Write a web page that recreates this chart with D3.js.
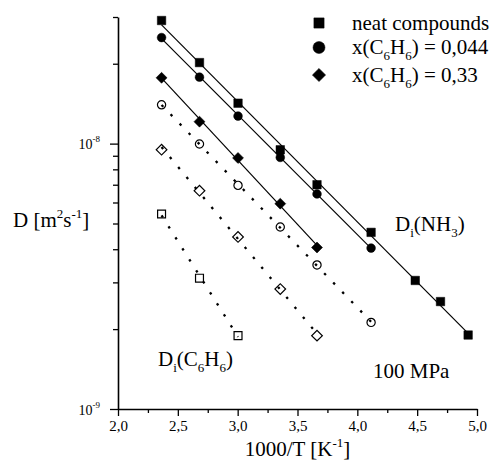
<!DOCTYPE html>
<html>
<head>
<meta charset="utf-8">
<script src="https://cdn.jsdelivr.net/npm/d3@7"></script>
<style>
  body { margin: 0; background: #fff; }
  svg, svg text { font-family: "Liberation Serif", "DejaVu Serif", serif; }
</style>
</head>
<body>
<svg id="chart" width="493" height="462"></svg>
<script>
// 1000/T for the measured temperatures (423, 373, 333, 298, 273, 243, 223, 213, 203 K)
const invT = [2.364, 2.681, 3.003, 3.356, 3.663, 4.115, 4.484, 4.695, 4.926]

// D [m2 s-1]
const neatNH3  = [2.91e-8, 2.02e-8, 1.42e-8, 9.48e-9, 7.0e-9, 4.63e-9, 3.05e-9, 2.54e-9, 1.90e-9]
const x044NH3  = [2.51e-8, 1.78e-8, 1.27e-8, 8.87e-9, 6.46e-9, 4.04e-9]
const x033NH3  = [1.77e-8, 1.21e-8, 8.83e-9, 5.94e-9, 4.06e-9]
const x044C6H6 = [1.40e-8, 9.97e-9, 6.96e-9, 4.85e-9, 3.49e-9, 2.12e-9]
const x033C6H6 = [9.49e-9, 6.65e-9, 4.45e-9, 2.83e-9, 1.89e-9]
const neatC6H6 = [5.43e-9, 3.11e-9, 1.89e-9]

// ticks
const xMajor = [2.0, 2.5, 3.0, 3.5, 4.0, 4.5, 5.0]
const xMinor = [2.25, 2.75, 3.25, 3.75, 4.25, 4.75]
const yMajor = [1e-9, 1e-8]
const yMinor = [2e-9, 3e-9, 4e-9, 5e-9, 6e-9, 7e-9, 8e-9, 9e-9, 2e-8, 3e-8]

const legendLabels = ['neat compounds', '0,044', '0,33']

const FONT = '"Liberation Serif", "DejaVu Serif", serif'
let margin = {top: 17, right: 16, bottom: 53, left: 118}
let W = 493, H = 462
let svg = d3.select('#chart').attr('font-family', FONT)

let x = d3.scaleLinear().domain([2, 5]).range([margin.left, W - margin.right])
let y = d3.scaleLog().domain([1e-9, 3e-8]).range([H - margin.bottom, margin.top])

// ---- axes
function styleAxis(g, w) {
    g.attr('font-family', FONT)
    g.select('.domain').attr('stroke-width', w)
    g.selectAll('.tick line').attr('stroke-width', 1.3)
}
let xb = svg.append('g').attr('transform', `translate(0,${y.range()[0]})`)
    .call(d3.axisBottom(x).tickValues(xMajor).tickSize(7).tickSizeOuter(0).tickPadding(4)
        .tickFormat(d => d.toFixed(1).replace('.', ',')))
styleAxis(xb, 1.6)
xb.selectAll('text').attr('font-size', 15).attr('fill', '#000')
let xm = svg.append('g').attr('transform', `translate(0,${y.range()[0]})`)
    .call(d3.axisBottom(x).tickValues(xMinor).tickSize(4).tickFormat(''))
xm.select('.domain').remove()
xm.selectAll('.tick line').attr('stroke-width', 1.3)

let yl = svg.append('g').attr('transform', `translate(${margin.left},0)`)
    .call(d3.axisLeft(y).tickValues(yMajor).tickSize(8).tickSizeOuter(0).tickFormat(''))
styleAxis(yl, 1.6)
let ym = svg.append('g').attr('transform', `translate(${margin.left},0)`)
    .call(d3.axisLeft(y).tickValues(yMinor).tickSize(5).tickFormat(''))
ym.select('.domain').remove()
ym.selectAll('.tick line').attr('stroke-width', 1.3)

// 10^n labels
yMajor.forEach(v => {
    let t = svg.append('text').attr('x', margin.left - 18).attr('y', y(v) + 5.5)
        .attr('text-anchor', 'end').attr('font-size', 14)
    t.append('tspan').text('10')
    t.append('tspan').attr('dy', -7).attr('font-size', 9).text(Math.round(Math.log10(v)))
})

// text with sub/superscripts: parts = [[str, 'sub'|'sup'|null]]
function rich(x0, y0, size, parts, anchor) {
    let t = svg.append('text').attr('x', x0).attr('y', y0).attr('font-size', size)
        .attr('font-family', FONT)
        .attr('text-anchor', anchor || 'start')
    let cur = 0
    parts.forEach(([s, k]) => {
        let off = k === 'sup' ? -size * 0.42 : k === 'sub' ? size * 0.3 : 0
        t.append('tspan').attr('dy', off - cur).attr('font-size', k ? size * 0.62 : size).text(s)
        cur = off
    })
    return t
}

rich(13, 227, 21, [['D [m'], ['2', 'sup'], ['s'], ['-1', 'sup'], [']']])
rich((x.range()[0] + x.range()[1]) / 2, 456, 21, [['1000/T [K'], ['-1', 'sup'], [']']], 'middle')

// ---- fitted lines (least squares of log10 D against 1000/T)
function fitLine(vals) {
    let xs = invT.slice(0, vals.length), ls = vals.map(Math.log10)
    let mx = d3.mean(xs), ml = d3.mean(ls)
    let b = d3.sum(xs, (d, i) => (d - mx) * (ls[i] - ml)) / d3.sum(xs, d => (d - mx) ** 2)
    let a = ml - b * mx
    return d3.extent(xs).map(v => [v, Math.pow(10, a + b * v)])
}
let makeLine = d3.line().x(d => x(d[0])).y(d => y(d[1]))

const series = [
    {vals: neatNH3,  shape: 'square',  filled: true},
    {vals: x044NH3,  shape: 'circle',  filled: true},
    {vals: x033NH3,  shape: 'diamond', filled: true},
    {vals: x044C6H6, shape: 'circle',  filled: false},
    {vals: x033C6H6, shape: 'diamond', filled: false},
    {vals: neatC6H6, shape: 'square',  filled: false}
]

series.forEach(s => {
    svg.append('path')
        .attr('d', makeLine(fitLine(s.vals)))
        .attr('fill', 'none')
        .attr('stroke', '#000')
        .attr('stroke-width', s.filled ? 1.2 : 2.3)
        .attr('stroke-dasharray', s.filled ? null : '2.5,10.5')
})

function marker(g, shape, filled, big) {
    let k = big ? 1.45 : (filled ? 1 : 0.95)
    let sym, rot = 0
    if (shape === 'square') sym = d3.symbol(d3.symbolSquare, (filled ? 72 : 66) * k)
    else if (shape === 'circle') sym = d3.symbol(d3.symbolCircle, (filled ? 60 : 56) * k * (big ? 1.3 : 1))
    else { sym = d3.symbol(d3.symbolSquare, 60 * k); rot = 45 }
    g.append('path').attr('d', sym())
        .attr('transform', `rotate(${rot})`)
        .attr('fill', filled ? '#000' : 'none')
        .attr('stroke', '#000')
        .attr('stroke-width', filled ? 0.5 : 1.2)
}

series.forEach(s => {
    let g = svg.append('g')
    s.vals.forEach((v, i) => {
        let p = g.append('g').attr('transform', `translate(${x(invT[i])},${y(v)})`)
        marker(p, s.shape, s.filled, false)
    })
})

// ---- legend
const legendY = [23, 47.5, 75]
series.slice(0, 3).forEach((s, i) => {
    let p = svg.append('g').attr('transform', `translate(319,${legendY[i]})`)
    marker(p, s.shape, true, true)
    if (i === 0) rich(352, legendY[i] + 6.5, 21, [[legendLabels[0]]])
    else rich(352, legendY[i] + 6.5, 21, [['x(C'], ['6', 'sub'], ['H'], ['6', 'sub'], [') = ' + legendLabels[i]]])
})

// ---- annotations
rich(395, 231, 21, [['D'], ['i', 'sub'], ['(NH'], ['3', 'sub'], [')']])
rich(158, 366, 21, [['D'], ['i', 'sub'], ['(C'], ['6', 'sub'], ['H'], ['6', 'sub'], [')']])
rich(373, 378, 21, [['100 MPa']])
</script>
</body>
</html>
